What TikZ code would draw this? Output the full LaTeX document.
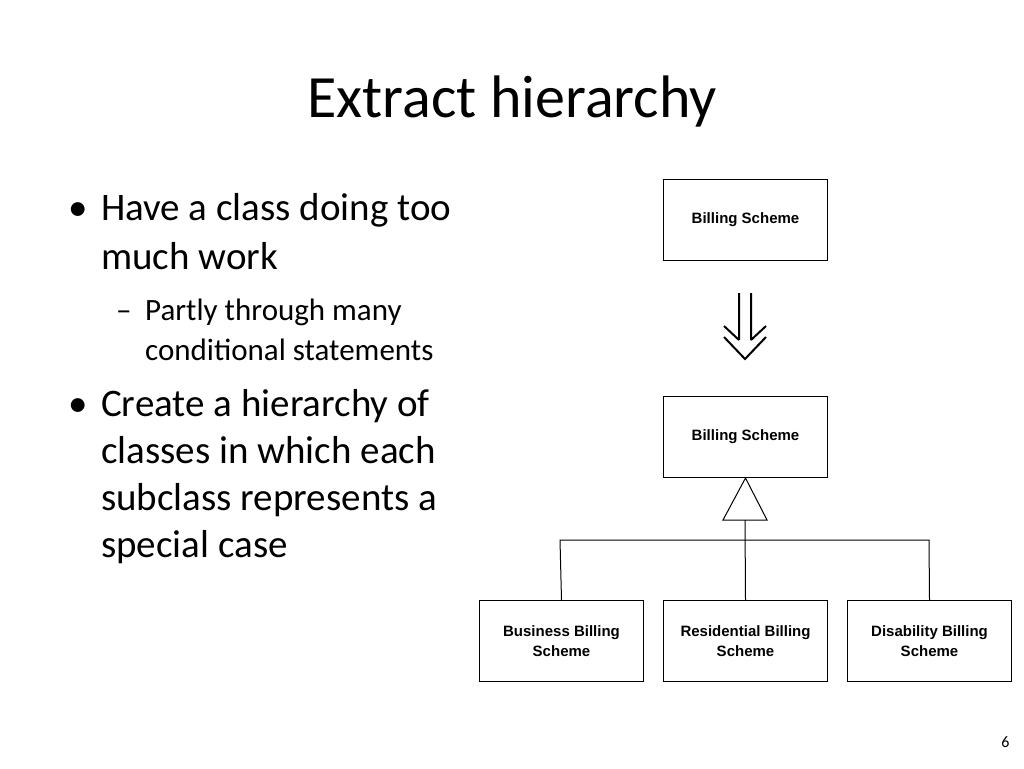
\documentclass[tikz,border=0pt]{standalone}
\usepackage{fontspec}
\setmainfont{Carlito}
\newfontfamily\boxfont{Liberation Sans}
\begin{document}
\begin{tikzpicture}[x=1pt,y=-1pt,
  cls/.style={draw,line width=1pt,minimum width=164pt,minimum height=81pt,anchor=north west,inner sep=0pt,align=center,font=\boxfont\bfseries\fontsize{15}{20}\selectfont},
  txt/.style={anchor=base west,inner sep=0pt,font=\fontsize{39}{47}\selectfont},
  sub/.style={anchor=base west,inner sep=0pt,font=\fontsize{31}{40}\selectfont},
  ln/.style={line width=1pt}]
\useasboundingbox (0,0) rectangle (1024,768);
\node[anchor=base,font=\fontsize{60}{70}\selectfont] (title) at (512,117) {Extract hierarchy};
\node[txt] (b1) at (68,220) {•};
\node[txt] (t1) at (101,220) {Have a class doing too};
\node[txt] (t2) at (101,269) {much work};
\node[sub] (d1) at (116,320) {–};
\node[sub] (s1) at (145,320) {Partly through many};
\node[sub] (s2) at (145,360) {conditional statements};
\node[txt] (b2) at (68,416) {•};
\node[txt] (t3) at (101,416) {Create a hierarchy of};
\node[txt] (t4) at (101,463) {classes in which each};
\node[txt] (t5) at (101,510) {subclass represents a};
\node[txt] (t6) at (101,557) {special case};
\node[anchor=base east,font=\fontsize{16}{18}\selectfont] (pg) at (1013,747) {6};
\node[cls] (top) at (663,179) {Billing Scheme};
\node[cls] (mid) at (663,396) {Billing Scheme};
\node[cls] (c1) at (479,600) {Business Billing\\Scheme};
\node[cls] (c2) at (663,600) {Residential Billing\\Scheme};
\node[cls] (c3) at (847,600) {Disability Billing\\Scheme};
% double arrow
\draw[line width=2pt] (739,293) -- (739,340) (751,293) -- (751,340)
  (724,326) -- (739,340) (766,326) -- (751,340)
  (724,337) -- (745,359) -- (766,337);
% inheritance
\coordinate (tb) at (745,520);
\draw[ln] (mid.south) -- (723,520) -- (767,520) -- cycle;
\draw[ln] (tb) -- (c2.north);
\draw[ln] (c1.north) -- (560,540) -- (929,540) -- (c3.north);
\end{tikzpicture}
\end{document}
